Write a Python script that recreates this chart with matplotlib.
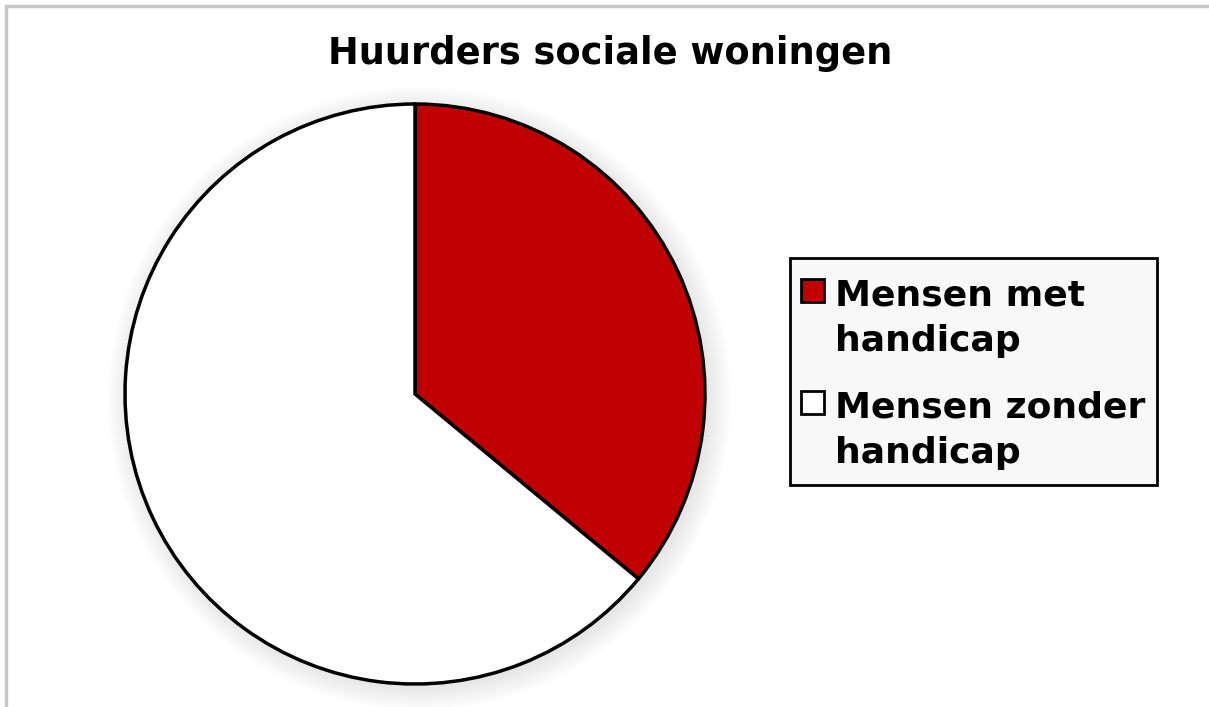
import matplotlib.pyplot as plt
from matplotlib.patches import Rectangle, Circle

labels = ['Mensen met\nhandicap', 'Mensen zonder\nhandicap']
values = [36, 64]
colors = ['#c00000', '#ffffff']
title = 'Huurders sociale woningen'

W, H = 1209, 707
dpi = 100
fig = plt.figure(figsize=(W / dpi, H / dpi), dpi=dpi)
plt.rcParams['font.family'] = ['DejaVu Sans']

def fx(px):
    return px / W

def fy(py):
    return 1 - py / H

# light gray outer frame (only top and left visible)
fig.patches.append(Rectangle((fx(6), -0.1), 1.2, fy(6) + 0.1,
                             transform=fig.transFigure, fill=False,
                             edgecolor='#c8c8c8', linewidth=2.5))

cx, cy, r = 415, 394, 290
ax = fig.add_axes([fx(cx - r), fy(cy + r), 2 * r / W, 2 * r / H])

# soft shadow
for i in range(12):
    ax.add_patch(Circle((0.015, -0.015), 1.0 + 0.007 * i, color='black',
                        alpha=0.008, linewidth=0, zorder=0, clip_on=False))

wedges, _ = ax.pie(values, colors=colors, startangle=90, counterclock=False,
                   wedgeprops=dict(edgecolor='black', linewidth=2.5))
ax.set_xlim(-1, 1)
ax.set_ylim(-1, 1)
ax.set_aspect('equal')
ax.axis('off')

fig.text(fx(610), fy(53), title, ha='center', va='center',
         fontsize=26.5, fontweight='bold')

# legend drawn by hand so the marker sits on the first line of each label
fig.patches.append(Rectangle((fx(790), fy(485)), fx(1157) - fx(790), fy(258) - fy(485),
                             transform=fig.transFigure, facecolor='#f8f8f8',
                             edgecolor='black', linewidth=2))
first_baseline = [305, 417]
line_gap = 46
for lab, col, base in zip(labels, colors, first_baseline):
    fig.patches.append(Rectangle((fx(801), fy(base - 3)), fx(23), 23 / H,
                                 transform=fig.transFigure, facecolor=col,
                                 edgecolor='black', linewidth=2))
    for k, line in enumerate(lab.split('\n')):
        fig.text(fx(835), fy(base + k * line_gap), line, ha='left', va='baseline',
                 fontsize=26, fontweight='bold')

fig.savefig('out.png', dpi=dpi)
